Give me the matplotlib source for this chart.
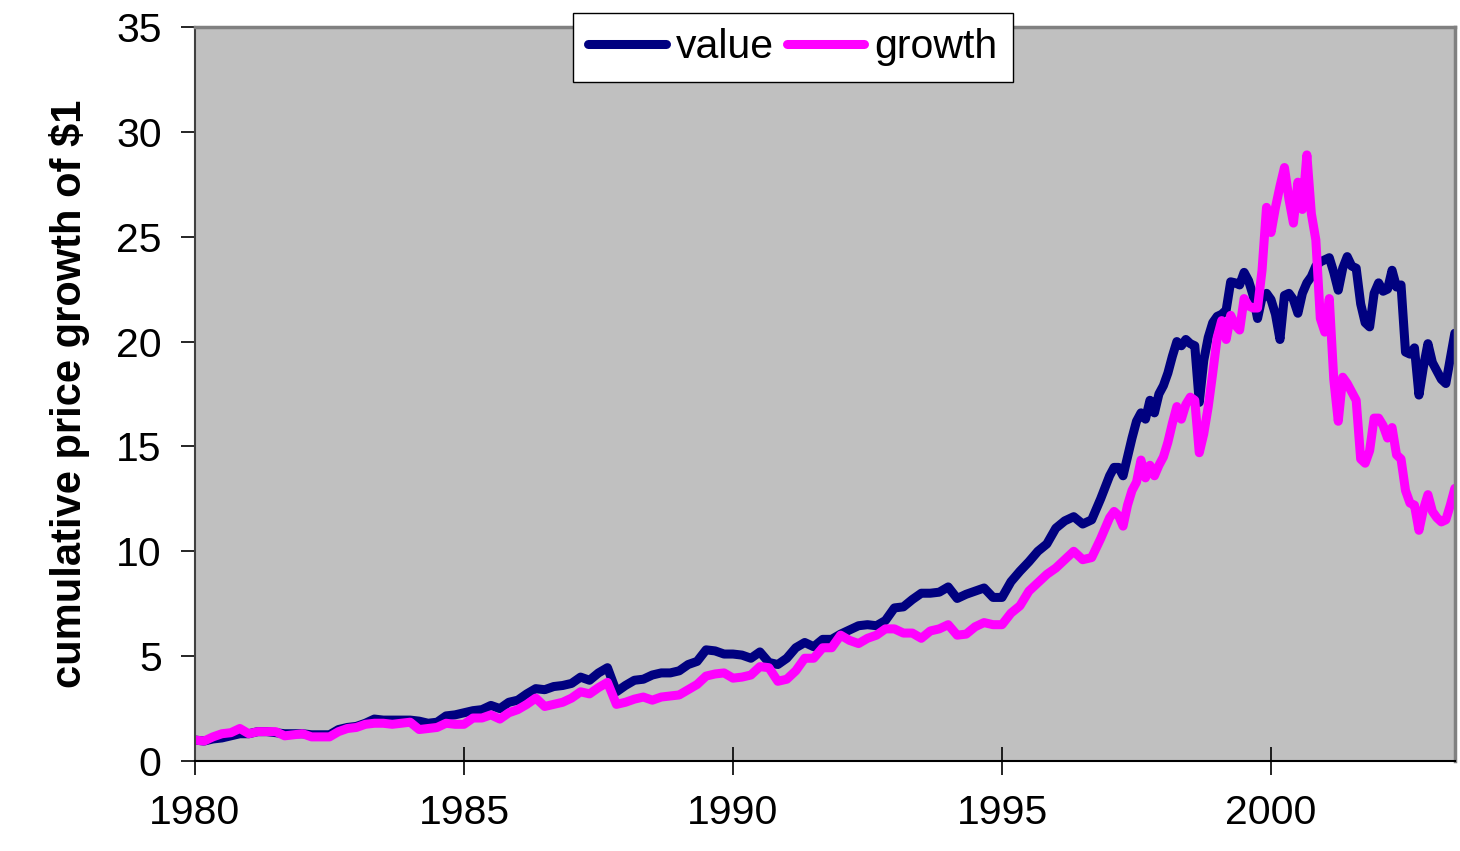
import numpy as np
import matplotlib
matplotlib.use("Agg")
import matplotlib.pyplot as plt

# bimonthly readings 1980-1996, monthly from 1997 on
value_early = [
    1.0, 0.95, 1.05, 1.1, 1.2, 1.3,        # 1980
    1.3, 1.4, 1.4, 1.35, 1.3, 1.3,         # 1981
    1.3, 1.25, 1.25, 1.25, 1.5, 1.6,       # 1982
    1.65, 1.8, 2.0, 1.95, 1.95, 1.95,      # 1983
    1.95, 1.9, 1.8, 1.85, 2.15, 2.2,       # 1984
    2.3, 2.4, 2.45, 2.65, 2.5, 2.8,        # 1985
    2.9, 3.2, 3.45, 3.4, 3.55, 3.6,        # 1986
    3.7, 4.0, 3.85, 4.2, 4.45, 3.3,        # 1987
    3.6, 3.85, 3.9, 4.1, 4.2, 4.2,         # 1988
    4.3, 4.6, 4.75, 5.3, 5.25, 5.1,        # 1989
    5.1, 5.05, 4.9, 5.2, 4.7, 4.6,         # 1990
    4.9, 5.4, 5.65, 5.45, 5.8, 5.8,        # 1991
    6.05, 6.25, 6.45, 6.5, 6.45, 6.7,      # 1992
    7.3, 7.35, 7.7, 8.0, 8.0, 8.05,        # 1993
    8.3, 7.75, 7.95, 8.1, 8.25, 7.8,       # 1994
    7.8, 8.55, 9.05, 9.5, 10.0, 10.35,     # 1995
    11.1, 11.45, 11.65, 11.3, 11.5, 12.5,  # 1996
]
growth_early = [
    1.0, 0.95, 1.15, 1.3, 1.35, 1.55,
    1.3, 1.4, 1.4, 1.4, 1.2, 1.25,
    1.3, 1.15, 1.15, 1.15, 1.4, 1.55,
    1.6, 1.75, 1.8, 1.8, 1.75, 1.8,
    1.85, 1.5, 1.55, 1.6, 1.8, 1.75,
    1.75, 2.05, 2.05, 2.2, 2.0, 2.3,
    2.45, 2.7, 3.0, 2.6, 2.7, 2.8,
    3.0, 3.3, 3.2, 3.5, 3.75, 2.7,
    2.8, 2.95, 3.05, 2.9, 3.05, 3.1,
    3.15, 3.4, 3.65, 4.05, 4.15, 4.2,
    3.95, 4.0, 4.1, 4.5, 4.45, 3.8,
    3.9, 4.3, 4.9, 4.9, 5.4, 5.4,
    6.0, 5.75, 5.6, 5.85, 6.0, 6.3,
    6.3, 6.1, 6.1, 5.85, 6.2, 6.3,
    6.5, 6.0, 6.05, 6.4, 6.6, 6.5,
    6.5, 7.05, 7.4, 8.1, 8.5, 8.9,
    9.2, 9.6, 10.0, 9.6, 9.7, 10.6,
]
value_late = [
    13.6, 14.0, 14.0, 13.6, 14.5, 15.4, 16.2, 16.6, 16.3, 17.2, 16.6, 17.5,   # 1997
    17.9, 18.5, 19.3, 20.0, 19.8, 20.1, 19.9, 19.8, 17.1, 19.1, 20.2, 20.9,   # 1998
    21.2, 21.3, 21.5, 22.85, 22.8, 22.7, 23.3, 22.9, 22.2, 21.1, 22.1, 22.3,  # 1999
    22.0, 21.3, 20.1, 22.2, 22.3, 22.0, 21.35, 22.3, 22.8, 23.1, 23.6, 23.8,  # 2000
    23.9, 24.0, 23.3, 22.45, 23.5, 24.05, 23.6, 23.5, 21.8, 20.9, 20.7, 22.3, # 2001
    22.8, 22.4, 22.5, 23.4, 22.6, 22.7, 19.5, 19.4, 19.7, 17.45, 18.8, 19.9,  # 2002
    19.0, 18.6, 18.2, 18.0, 19.2, 20.4,                                       # 2003
]
growth_late = [
    11.6, 11.9, 11.7, 11.2, 12.2, 12.9, 13.3, 14.35, 13.5, 14.1, 13.6, 14.1,
    14.5, 15.2, 16.1, 16.9, 16.3, 17.0, 17.35, 17.2, 14.7, 15.6, 16.9, 18.5,
    20.2, 21.0, 20.1, 21.25, 20.8, 20.55, 22.05, 21.7, 21.6, 21.6, 23.4, 26.4,
    25.2, 26.4, 27.4, 28.3, 26.8, 25.65, 27.6, 26.3, 28.9, 26.1, 24.85, 21.1,
    20.45, 22.05, 18.2, 16.2, 18.3, 18.0, 17.6, 17.2, 14.4, 14.2, 14.8, 16.35,
    16.35, 16.0, 15.4, 15.9, 14.6, 14.4, 12.9, 12.3, 12.2, 11.0, 12.0, 12.7,
    11.9, 11.6, 11.4, 11.5, 12.2, 13.0,
]

years = np.concatenate([1980 + np.arange(len(value_early)) / 6,
                        1997 + np.arange(len(value_late)) / 12])
value = value_early + value_late
growth = growth_early + growth_late

plt.rcParams['font.family'] = ['Liberation Sans', 'DejaVu Sans']

fig = plt.figure(figsize=(14.6, 8.51), dpi=100)
ax = fig.add_axes([195 / 1460, 90 / 851, 1260 / 1460, 734 / 851])
ax.set_facecolor('#C0C0C0')

ax.plot(years, value, color='#000080', lw=6.5, solid_joinstyle='round',
        solid_capstyle='round', label='value')
ax.plot(years, growth, color='#FF00FF', lw=6.5, solid_joinstyle='round',
        solid_capstyle='round', label='growth')

ax.set_xlim(1980, 2003.42)
ax.set_ylim(0, 35)
ax.set_xticks([1980, 1985, 1990, 1995, 2000])
ax.set_yticks(range(0, 36, 5))
ax.tick_params(axis='x', direction='inout', length=20, width=1.2,
               labelsize=29.5, pad=14)
ax.tick_params(axis='y', direction='out', length=10, width=1.2,
               labelsize=29.5, pad=14)

ax.spines['left'].set_color('#404040')
ax.spines['left'].set_linewidth(1.5)
ax.spines['bottom'].set_color('black')
ax.spines['bottom'].set_linewidth(1.5)
for s in ('top', 'right'):
    ax.spines[s].set_color('#808080')
    ax.spines[s].set_linewidth(2.5)

ax.set_ylabel('cumulative price growth of $1', fontsize=30, fontweight='bold')
ax.yaxis.set_label_coords(-0.083, 0.5)

leg = ax.legend(loc='center', bbox_to_anchor=(793 / 1460, 1 - 47.5 / 851),
                bbox_transform=fig.transFigure, ncol=2, fontsize=29.5,
                frameon=True, fancybox=False, edgecolor='black',
                handlelength=1.9, handletextpad=0.25, columnspacing=0.3,
                borderpad=0.38, borderaxespad=0)
leg.get_frame().set_linewidth(1.0)
leg.get_frame().set_alpha(1)

fig.savefig('out.png', dpi=100)
